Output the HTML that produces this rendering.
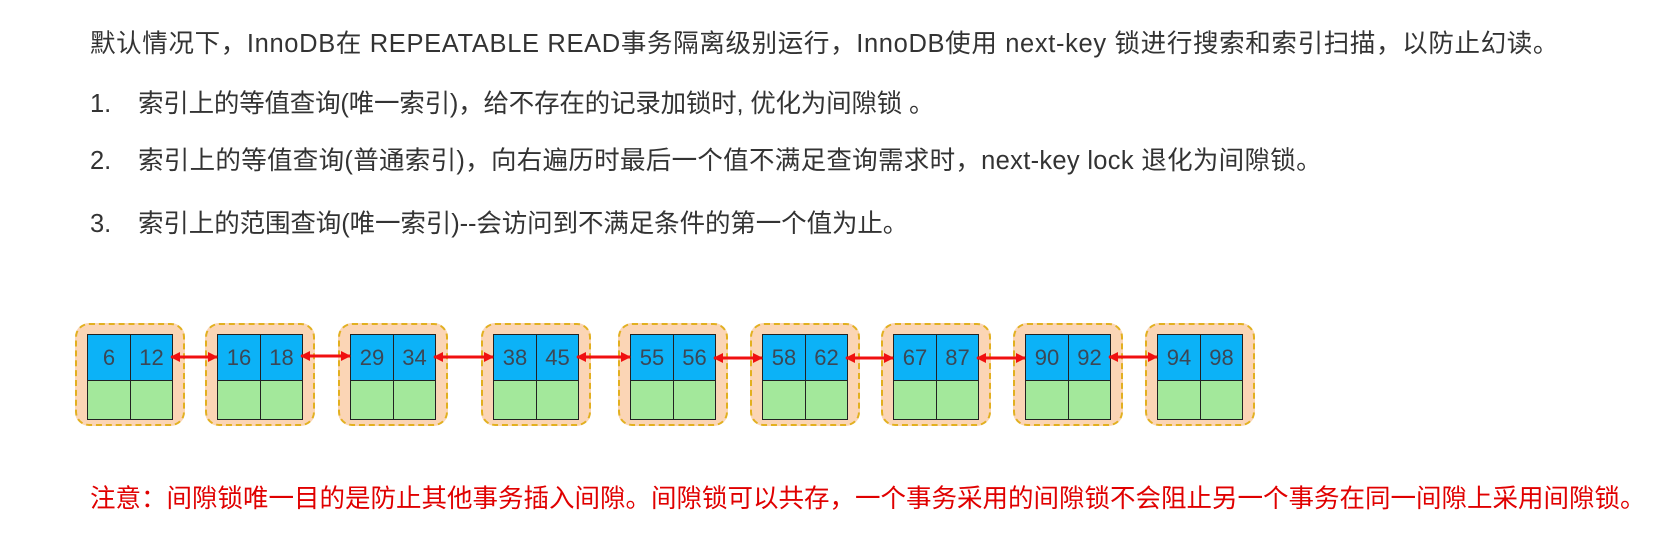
<!DOCTYPE html>
<html><head><meta charset="utf-8"><style>
body{margin:0;width:1676px;height:535px;background:#fff;position:relative;overflow:hidden;font-family:"Liberation Sans","Noto Sans CJK SC",sans-serif;}
.t{position:absolute;left:90px;font-size:25.5px;color:#333;white-space:nowrap;line-height:30px;}
.box{position:absolute;top:323px;width:106px;height:99px;background:#fbd5b5;border:2px dashed #e2b020;border-radius:14px;}
.in{position:absolute;left:10px;top:9px;width:84px;height:84px;border:1px solid #222;}
.c{position:absolute;width:42px;box-sizing:border-box;font-size:22px;color:#3b4756;text-align:center;}
.b{top:0;height:46px;background:#0cb2f7;line-height:46px;border-bottom:1px solid #222;}
.g{top:46px;height:38px;background:#a3e89b;}
.r{left:42px;border-left:1px solid #222;}
</style></head><body>
<div class="t" style="top:29px;letter-spacing:0.65px">默认情况下，InnoDB在 REPEATABLE READ事务隔离级别运行，InnoDB使用 next-key 锁进行搜索和索引扫描，以防止幻读。</div>
<div class="t" style="top:89px">1.<span style="position:absolute;left:48px;letter-spacing:-0.2px">索引上的等值查询(唯一索引)，给不存在的记录加锁时, 优化为间隙锁 。</span></div>
<div class="t" style="top:146px">2.<span style="position:absolute;left:48px;letter-spacing:0.3px">索引上的等值查询(普通索引)，向右遍历时最后一个值不满足查询需求时，next-key lock 退化为间隙锁。</span></div>
<div class="t" style="top:209px">3.<span style="position:absolute;left:48px;letter-spacing:-0.1px">索引上的范围查询(唯一索引)--会访问到不满足条件的第一个值为止。</span></div>

<div class="box" style="left:75px"><div class="in"><div class="c b">6</div><div class="c b r">12</div><div class="c g"></div><div class="c g r"></div></div></div>
<div class="box" style="left:205px"><div class="in"><div class="c b">16</div><div class="c b r">18</div><div class="c g"></div><div class="c g r"></div></div></div>
<div class="box" style="left:338px"><div class="in"><div class="c b">29</div><div class="c b r">34</div><div class="c g"></div><div class="c g r"></div></div></div>
<div class="box" style="left:481px"><div class="in"><div class="c b">38</div><div class="c b r">45</div><div class="c g"></div><div class="c g r"></div></div></div>
<div class="box" style="left:618px"><div class="in"><div class="c b">55</div><div class="c b r">56</div><div class="c g"></div><div class="c g r"></div></div></div>
<div class="box" style="left:750px"><div class="in"><div class="c b">58</div><div class="c b r">62</div><div class="c g"></div><div class="c g r"></div></div></div>
<div class="box" style="left:881px"><div class="in"><div class="c b">67</div><div class="c b r">87</div><div class="c g"></div><div class="c g r"></div></div></div>
<div class="box" style="left:1013px"><div class="in"><div class="c b">90</div><div class="c b r">92</div><div class="c g"></div><div class="c g r"></div></div></div>
<div class="box" style="left:1145px"><div class="in"><div class="c b">94</div><div class="c b r">98</div><div class="c g"></div><div class="c g r"></div></div></div>

<svg width="1676" height="535" style="position:absolute;left:0;top:0">
<defs><marker id="a" markerWidth="10" markerHeight="10" refX="9" refY="5" orient="auto-start-reverse" markerUnits="userSpaceOnUse" viewBox="0 0 10 10"><path d="M0,0 L10,5 L0,10 z" fill="#f01010"/></marker></defs>
<g stroke="#f01010" stroke-width="3" marker-start="url(#a)" marker-end="url(#a)">
<line x1="171" y1="357" x2="217" y2="357"/>
<line x1="301" y1="356" x2="350" y2="356"/>
<line x1="434" y1="357" x2="493" y2="357"/>
<line x1="577" y1="357" x2="630" y2="357"/>
<line x1="714" y1="358" x2="762" y2="358"/>
<line x1="846" y1="358" x2="893" y2="358"/>
<line x1="977" y1="358" x2="1025" y2="358"/>
<line x1="1109" y1="357" x2="1157" y2="357"/>
</g></svg>

<div class="t" style="top:484px;color:#e00000;">注意：间隙锁唯一目的是防止其他事务插入间隙。间隙锁可以共存，一个事务采用的间隙锁不会阻止另一个事务在同一间隙上采用间隙锁。</div>
</body></html>
